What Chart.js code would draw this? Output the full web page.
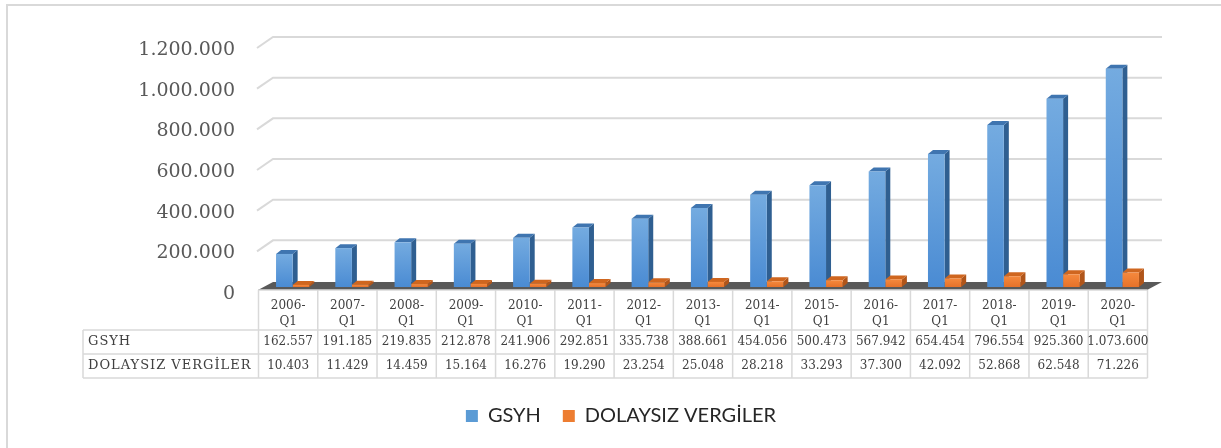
<!DOCTYPE html>
<html>
<head>
<meta charset="utf-8">
<script src="https://cdn.jsdelivr.net/npm/chart.js@4/dist/chart.umd.min.js"></script>
<style>
  html, body { margin: 0; padding: 0; background: #fff; }
</style>
</head>
<body>
<canvas id="grafik" width="1221" height="448"></canvas>
<script>
// veriler
const donemler = ['2006-Q1', '2007-Q1', '2008-Q1', '2009-Q1', '2010-Q1', '2011-Q1', '2012-Q1', '2013-Q1',
                  '2014-Q1', '2015-Q1', '2016-Q1', '2017-Q1', '2018-Q1', '2019-Q1', '2020-Q1'];
const gsyh = [162557, 191185, 219835, 212878, 241906, 292851, 335738, 388661,
              454056, 500473, 567942, 654454, 796554, 925360, 1073600];
const dolaysizVergiler = [10403, 11429, 14459, 15164, 16276, 19290, 23254, 25048,
                          28218, 33293, 37300, 42092, 52868, 62548, 71226];
const seriAdlari = ['GSYH', 'DOLAYSIZ VERGİLER'];
const yEksen = { min: 0, max: 1200000, adim: 200000 };

// renkler
const lejantRenk = ['#5b9bd5', '#ed7d31'];
const onUst = ['#74abe0', '#f5893d'];
const onAlt = ['#4a8bd3', '#e6722a'];
const yanRenk = ['#2f5f91', '#b0551a'];
const ustRenk = ['#3f75b0', '#cf661f'];
const derinlik = { dx: 5, dy: -4 };

const nokta = v => String(v).replace(/\B(?=(\d{3})+(?!\d))/g, '.');

function onYuz(i) {
  return (c) => {
    const chart = c.chart;
    if (!chart.chartArea || c.type !== 'data') return lejantRenk[i];
    const y = chart.scales.y;
    const ust = y.getPixelForValue(c.raw), alt = y.getPixelForValue(0);
    const g = chart.ctx.createLinearGradient(0, ust, 0, alt + 0.01);
    g.addColorStop(0, onUst[i]);
    g.addColorStop(1, onAlt[i]);
    return g;
  };
}

const ucBoyut = {
  id: 'ucBoyut',
  beforeDraw(chart) {
    const ctx = chart.ctx;
    ctx.save();
    ctx.fillStyle = '#fff';
    ctx.fillRect(0, 0, chart.width, chart.height);
    ctx.strokeStyle = '#d9d9d9';
    ctx.lineWidth = 2;
    ctx.strokeRect(7, 5, 1400, 600);
    ctx.restore();
  },
  beforeDatasetsDraw(chart) {
    const { ctx, chartArea: a, scales: { y } } = chart;
    ctx.save();
    // izgara cizgileri (arka duvar)
    ctx.strokeStyle = '#d9d9d9';
    ctx.lineWidth = 2;
    y.ticks.forEach(t => {
      if (t.value === 0) return;
      const py = y.getPixelForValue(t.value);
      ctx.beginPath();
      ctx.moveTo(a.left - 6, py + 5);
      ctx.lineTo(a.left + 10, py - 6);
      ctx.lineTo(a.right + 10, py - 6);
      ctx.stroke();
    });
    // zemin
    const y0 = y.getPixelForValue(0);
    ctx.fillStyle = '#595959';
    ctx.beginPath();
    ctx.moveTo(a.left - 5, y0 + 3);
    ctx.lineTo(a.right - 5, y0 + 3);
    ctx.lineTo(a.right + 10, y0 - 5);
    ctx.lineTo(a.left + 10, y0 - 5);
    ctx.closePath();
    ctx.fill();
    // cubuklarin yan ve ust yuzleri
    const { dx, dy } = derinlik;
    chart.data.datasets.forEach((ds, i) => {
      chart.getDatasetMeta(i).data.forEach(bar => {
        const { x, y: ust, base, width } = bar.getProps(['x', 'y', 'base', 'width'], true);
        const l = x - width / 2, r = x + width / 2;
        ctx.fillStyle = yanRenk[i];
        ctx.beginPath();
        ctx.moveTo(r, base);
        ctx.lineTo(r + dx, base + dy);
        ctx.lineTo(r + dx, ust + dy);
        ctx.lineTo(r, ust);
        ctx.closePath();
        ctx.fill();
        ctx.fillStyle = ustRenk[i];
        ctx.beginPath();
        ctx.moveTo(l, ust);
        ctx.lineTo(l + dx, ust + dy);
        ctx.lineTo(r + dx, ust + dy);
        ctx.lineTo(r, ust);
        ctx.closePath();
        ctx.fill();
      });
    });
    ctx.restore();
  },
  afterDraw(chart) {
    // veri tablosu
    const { ctx, chartArea: a } = chart;
    const n = donemler.length;
    const colW = (a.right - a.left) / n;
    const solX = a.left - 4.5;
    const sagX = solX + colW * n;
    const etiketX = 83;
    const ust = a.bottom + 3, baslikAlt = a.bottom + 43, satir1 = a.bottom + 67, satir2 = a.bottom + 91;
    ctx.save();
    ctx.strokeStyle = '#d9d9d9';
    ctx.lineWidth = 1.5;
    ctx.beginPath();
    for (let i = 0; i <= n; i++) {
      const x = solX + colW * i;
      ctx.moveTo(x, ust); ctx.lineTo(x, satir2);
    }
    ctx.moveTo(etiketX, baslikAlt); ctx.lineTo(etiketX, satir2);
    ctx.moveTo(solX, ust); ctx.lineTo(sagX, ust);
    [baslikAlt, satir1, satir2].forEach(yy => { ctx.moveTo(etiketX, yy); ctx.lineTo(sagX, yy); });
    ctx.stroke();

    ctx.fillStyle = '#404040';
    ctx.textAlign = 'center';
    ctx.textBaseline = 'middle';
    ctx.font = '12px "DejaVu Serif"';
    donemler.forEach((d, i) => {
      const cx = solX + colW * (i + 0.5);
      const [yil, ceyrek] = d.split('-');
      ctx.fillText(yil + '-', cx, a.bottom + 19);
      ctx.fillText(ceyrek, cx, a.bottom + 35);
      ctx.fillText(nokta(gsyh[i]), cx, a.bottom + 55);
      ctx.fillText(nokta(dolaysizVergiler[i]), cx, a.bottom + 79);
    });
    ctx.textAlign = 'left';
    ctx.font = '13px "DejaVu Serif"';
    ctx.letterSpacing = '1px';
    ctx.fillText(seriAdlari[0], etiketX + 5, a.bottom + 55);
    ctx.fillText(seriAdlari[1], etiketX + 5, a.bottom + 79);
    ctx.restore();
  }
};

new Chart(document.getElementById('grafik'), {
  type: 'bar',
  data: {
    labels: donemler,
    datasets: [
      { label: seriAdlari[0], data: gsyh, backgroundColor: onYuz(0), borderWidth: 0 },
      { label: seriAdlari[1], data: dolaysizVergiler, backgroundColor: onYuz(1), borderWidth: 0 }
    ]
  },
  options: {
    responsive: false,
    animation: false,
    categoryPercentage: 0.56,
    barPercentage: 1,
    layout: { padding: { top: 43, right: 69, bottom: 12, left: 90 } },
    plugins: {
      tooltip: { enabled: false },
      legend: {
        position: 'bottom',
        labels: {
          boxWidth: 12,
          boxHeight: 12,
          padding: 22,
          color: '#262626',
          font: { family: 'Lato', size: 20 },
          generateLabels: (chart) =>
            Chart.defaults.plugins.legend.labels.generateLabels(chart).map(l => ({
              ...l, fillStyle: lejantRenk[l.datasetIndex], strokeStyle: lejantRenk[l.datasetIndex], lineWidth: 0
            }))
        }
      }
    },
    scales: {
      x: {
        grid: { display: false },
        border: { display: false },
        ticks: { display: false },
        afterFit: (s) => { s.height = 97; }
      },
      y: {
        min: yEksen.min,
        max: yEksen.max,
        grid: { display: false },
        border: { display: false },
        ticks: {
          stepSize: yEksen.adim,
          padding: 20,
          labelOffset: 7,
          color: '#595959',
          font: { family: 'DejaVu Serif', size: 19 },
          callback: v => nokta(v)
        },
        afterFit: (s) => { s.width = 173; }
      }
    }
  },
  plugins: [ucBoyut]
});
</script>
</body>
</html>
